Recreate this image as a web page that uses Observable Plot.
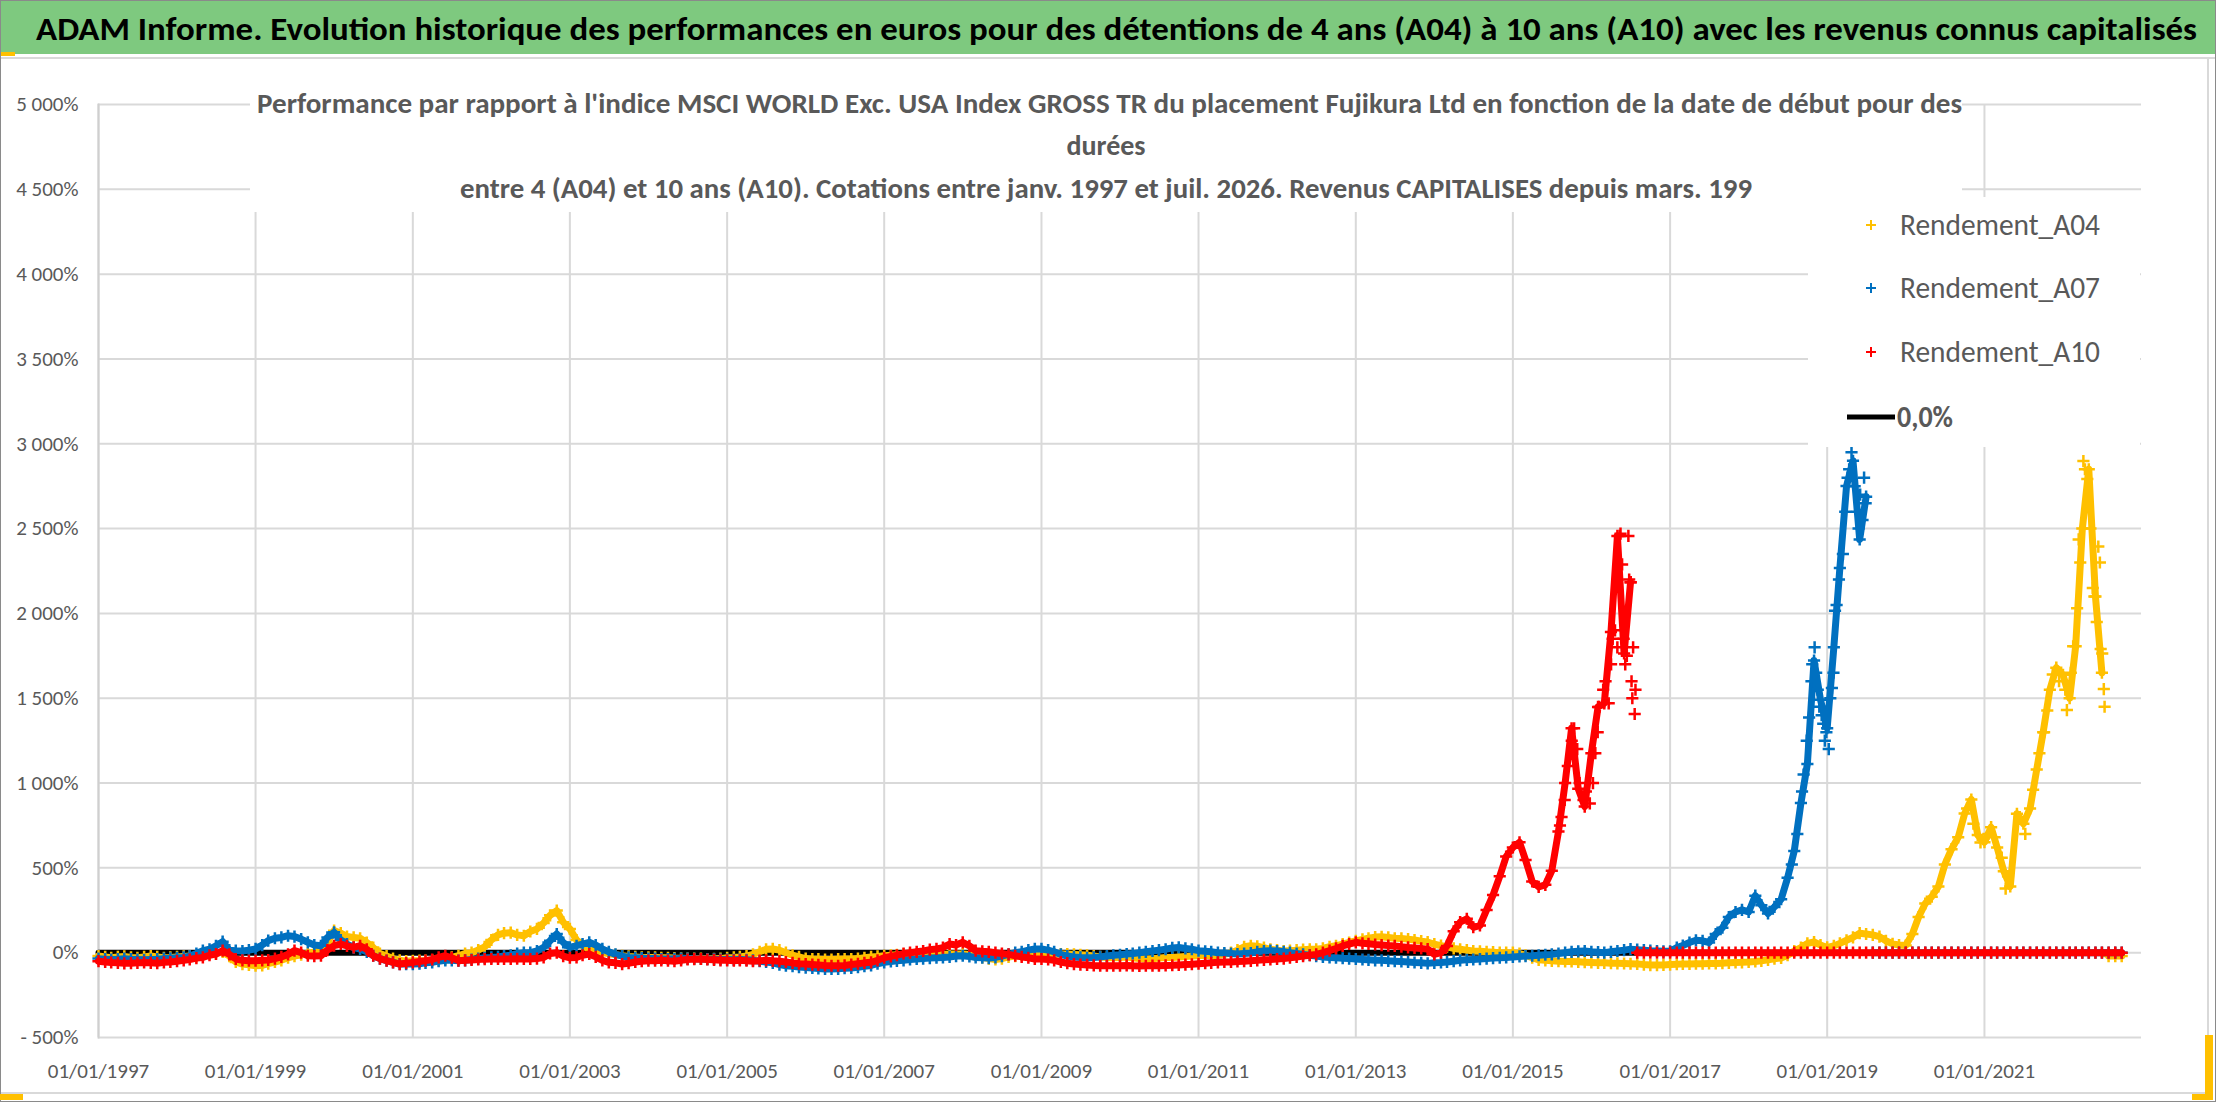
<!DOCTYPE html>
<html><head><meta charset="utf-8">
<script src="https://cdn.jsdelivr.net/npm/d3@7"></script>
<script src="https://cdn.jsdelivr.net/npm/@observablehq/plot@0.6"></script>
<style>
body{margin:0;background:#fff;}
#wrap{position:relative;width:2216px;height:1102px;overflow:hidden;background:#fff;}
#wrap svg{position:absolute;left:0;}
</style></head><body>
<div id="wrap"></div>
<script>
// ---------- DATA ----------
const FONT = "'Liberation Sans Narrow','Carlito','Open Sans',sans-serif";
const seriesNames = ["Rendement_A04", "Rendement_A07", "Rendement_A10"];
const seriesColors = ["#FFC000", "#0070C0", "#FF0000"];
const zeroLabel = "0,0%";
const yTickValues = [-500, 0, 500, 1000, 1500, 2000, 2500, 3000, 3500, 4000, 4500, 5000];
const xTickYears = [1997, 1999, 2001, 2003, 2005, 2007, 2009, 2011, 2013, 2015, 2017, 2019, 2021];
const firstMonth = [1997, 0]; // monthly values start Jan 1997
const zeroLineDates = ["1997-01-01", "2022-10-01"];
const zeroLineValues = [0, 0];

// Rendement_A04 (monthly, %), Jan 1997 - Jul 2022
const a04Values = [
 -20,-25,-30,-25,-22,-28,-30,-25,-20,-25,-30,-28,
 -25,-22,-20,-22,-15,-8,-5,5,-20,-55,-67,-72,
 -77,-75,-65,-55,-45,-30,-20,-12,-5,5,15,60,
 130,115,95,90,85,60,30,-5,-20,-35,-45,-50,
 -48,-47,-47,-45,-45,-40,-28,-18,-5,0,15,35,
 75,105,115,118,105,100,125,140,175,220,248,180,
 140,75,40,22,8,0,-5,-12,-18,-22,-25,-28,
 -28,-28,-30,-30,-32,-33,-35,-35,-35,-37,-36,-35,
 -30,-28,-25,-20,-10,5,20,22,15,0,-15,-25,
 -35,-37,-38,-40,-40,-38,-37,-37,-35,-30,-25,-22,
 -18,-15,-12,-10,-8,-8,-8,-10,-12,-10,-8,-8,
 -8,-10,-15,-28,-35,-40,-35,-25,-20,-15,-12,-10,
 -10,-12,-10,-8,-8,-10,-12,-15,-20,-25,-28,-30,
 -28,-25,-30,-35,-38,-36,-32,-28,-28,-25,-22,-20,
 -18,-15,-18,-15,-10,0,15,35,41,38,30,20,
 15,10,12,15,18,20,20,25,35,41,50,60,
 70,78,85,92,94,90,85,84,80,75,68,63,
 50,42,35,25,20,15,10,8,5,3,0,0,
 0,-5,-15,-30,-42,-45,-48,-50,-52,-52,-54,-56,
 -58,-60,-60,-62,-63,-64,-65,-66,-70,-73,-73,-72,
 -70,-68,-66,-66,-65,-65,-64,-64,-62,-60,-58,-57,
 -55,-52,-48,-42,-36,-31,-15,10,30,55,63,45,
 31,40,55,73,90,115,110,105,95,70,52,45,
 42,110,210,290,330,390,520,610,680,820,903,693,
 651,740,620,480,390,819,760,850,1080,1300,1550,1680,
 1638,1500,1806,2500,2850,2100,1650
];
const a04AfterValues = [-20,-20,-20]; // Aug - Oct 2022
const a04ExtraYears = [2020.78,2020.86,2020.95,2021.05,2021.13,2021.22,2021.27,2021.3,2021.45,2021.52,2021.62,2021.7,2021.76,2021.8,2021.87,2021.95,2022.03,2022.05,2022.1,2022.13,2022.18,2022.2,2022.22,2022.26,2022.28,2022.31,2022.35,2022.38,2022.4,2022.43,2022.45,2022.47,2022.48,2022.5,2022.52,2022.53];
const a04ExtraValues = [850,760,650,700,680,560,378,450,800,700,960,1176,1300,1428,1640,1600,1550,1430,1650,1806,2030,2436,2300,2898,2850,2793,2500,2150,2100,1950,2394,2300,1790,1764,1554,1450];

// Rendement_A07 (monthly, %), Jan 1997 - Jul 2019
const a07Values = [
 -35,-38,-40,-38,-35,-38,-40,-42,-40,-38,-35,-33,
 -30,-28,-20,-5,12,20,40,65,15,12,10,15,
 22,45,71,85,90,100,95,80,61,45,41,90,
 120,75,51,30,22,5,-18,-35,-47,-57,-67,-67,
 -67,-65,-60,-57,-50,-45,-45,-47,-45,-40,-35,-30,
 -28,-25,-20,-15,-5,0,0,10,31,70,110,60,
 31,41,51,61,45,22,5,-10,-20,-28,-30,-32,
 -35,-35,-37,-37,-36,-35,-35,-36,-37,-38,-38,-40,
 -40,-42,-40,-42,-45,-50,-55,-60,-70,-77,-80,-85,
 -88,-90,-93,-96,-96,-95,-92,-90,-86,-80,-75,-65,
 -57,-52,-48,-45,-40,-37,-35,-32,-30,-28,-25,-20,
 -18,-22,-28,-30,-32,-28,-20,-10,0,5,15,22,
 22,15,5,-10,-20,-25,-28,-30,-28,-25,-20,-15,
 -12,-8,-5,0,5,10,15,20,28,31,25,20,
 12,8,5,0,-2,-5,-8,-5,-2,5,10,12,
 10,5,0,-5,-10,-15,-20,-25,-28,-30,-33,-35,
 -37,-40,-42,-45,-45,-48,-50,-52,-55,-58,-60,-63,
 -60,-58,-55,-50,-45,-42,-40,-38,-35,-32,-30,-28,
 -25,-22,-20,-18,-15,-12,-10,-5,0,5,8,10,
 5,3,0,5,10,15,21,18,15,12,10,8,
 8,30,42,60,73,70,60,110,147,210,240,252,
 240,336,280,231,270,315,441,600,882,1113,1722,1491,
 1323,1800,2268,2751,2900,2436,2688
];
const a07AfterValues = [ // Aug 2019 - Oct 2022
 0,0,0,0,0,
 0,0,0,0,0,0,0,0,0,0,0,0,
 0,0,0,0,0,0,0,0,0,0,0,0,
 0,0,0,0,0,0,0,0,0,0
];
const a07ExtraYears = [2018.55,2018.62,2018.68,2018.7,2018.74,2018.77,2018.8,2018.81,2018.84,2018.86,2018.88,2018.9,2018.93,2018.95,2018.97,2018.99,2019.02,2019.04,2019.06,2019.08,2019.1,2019.12,2019.15,2019.2,2019.23,2019.26,2019.28,2019.31,2019.35,2019.38,2019.4,2019.42,2019.45,2019.47,2019.49];
const a07ExtraValues = [520,700,950,1050,1250,1386,1600,1700,1800,1650,1550,1450,1400,1350,1250,1300,1200,1500,1560,1650,2016,2050,2200,2350,2600,2800,2850,2950,2750,2600,2500,2700,2550,2800,2650];

// Rendement_A10 (monthly, %), Jan 1997 - Jul 2016
const a10Values = [
 -50,-55,-58,-60,-63,-62,-60,-58,-60,-62,-57,-55,
 -50,-45,-40,-32,-28,-15,-8,12,-10,-37,-45,-47,
 -47,-45,-43,-35,-25,-10,12,0,-18,-20,-18,15,
 41,51,40,31,41,20,-18,-35,-47,-57,-67,-62,
 -57,-52,-47,-40,-28,-18,-30,-47,-45,-43,-40,-38,
 -37,-37,-37,-37,-36,-37,-37,-35,-28,-5,0,-20,
 -30,-28,-15,-8,-25,-45,-57,-60,-67,-62,-55,-50,
 -47,-47,-45,-47,-50,-45,-40,-38,-37,-40,-42,-45,
 -45,-47,-45,-47,-50,-47,-45,-48,-50,-55,-60,-65,
 -67,-70,-72,-75,-77,-77,-75,-70,-65,-60,-57,-45,
 -30,-22,-15,-5,0,5,10,18,22,30,51,45,
 61,40,12,8,5,0,-5,-10,-18,-25,-30,-37,
 -37,-40,-45,-55,-62,-67,-70,-72,-75,-77,-77,-77,
 -77,-75,-77,-78,-77,-76,-77,-75,-74,-72,-70,-68,
 -65,-62,-60,-57,-55,-55,-52,-50,-48,-45,-42,-40,
 -37,-35,-30,-25,-20,-15,-10,0,12,25,40,51,
 61,55,52,48,45,42,40,35,31,28,25,21,
 -10,0,40,126,180,200,150,160,252,340,450,567,
 620,651,546,420,388,400,483,714,1000,1323,966,861,
 1176,1449,1470,1890,2457,1764,2184
];
const a10AfterValues = [ // Aug 2016 - Oct 2022
 0,0,0,0,0,
 0,0,0,0,0,0,0,0,0,0,0,0,
 0,0,0,0,0,0,0,0,0,0,0,0,
 0,0,0,0,0,0,0,0,0,0,0,0,
 0,0,0,0,0,0,0,0,0,0,0,0,
 0,0,0,0,0,0,0,0,0,0,0,0,
 0,0,0,0,0,0,0,0,0,0
];
const a10ExtraYears = [2015.6,2015.62,2015.66,2015.7,2015.75,2015.78,2015.82,2015.85,2015.9,2015.93,2015.98,2016.02,2016.05,2016.08,2016.1,2016.15,2016.18,2016.22,2016.25,2016.27,2016.3,2016.33,2016.36,2016.37,2016.39,2016.41,2016.43,2016.45,2016.47,2016.48,2016.5,2016.51,2016.52,2016.53,2016.55,2016.56];
const a10ExtraValues = [750,800,900,1100,1250,1323,1200,1000,900,950,880,1000,1176,1300,1449,1550,1600,1470,1700,1850,1900,1800,2457,2470,2289,1850,1700,1750,2457,2200,2184,1600,1500,1800,1407,1550];

// ---------- BUILD ----------
function decToDate(t){const y=Math.floor(t),f=t-y,a=Date.UTC(y,0,1),b=Date.UTC(y+1,0,1);return new Date(a+(b-a)*f);}
function monthly(vals,offset){return vals.map((v,i)=>({date:new Date(Date.UTC(firstMonth[0],firstMonth[1]+offset+i,1)),value:v}));}
function extra(years,vals){return years.map((t,i)=>({date:decToDate(t),value:vals[i]}));}
const raw = [[a04Values,a04AfterValues,a04ExtraYears,a04ExtraValues],[a07Values,a07AfterValues,a07ExtraYears,a07ExtraValues],[a10Values,a10AfterValues,a10ExtraYears,a10ExtraValues]];
const series = raw.map((r,i)=>({
  name:seriesNames[i], color:seriesColors[i],
  main:monthly(r[0],0), after:monthly(r[1],r[0].length), extra:extra(r[2],r[3])
}));
const zeroData = zeroLineDates.map((d,i)=>({date:new Date(d+"T00:00:00Z"),value:zeroLineValues[i]}));
const xTicks = xTickYears.map(y=>new Date(Date.UTC(y,0,1)));
const fmtY = v => (v<0?"- ":"") + d3.format(",")(Math.abs(v)).replace(/,/g," ") + "%";
const fmtX = d3.utcFormat("%d/%m/%Y");

const marks = [
  Plot.gridY(yTickValues,{stroke:"#d9d9d9",strokeOpacity:1,strokeWidth:2}),
  Plot.gridX(xTicks,{stroke:"#d9d9d9",strokeOpacity:1,strokeWidth:2}),
  Plot.frame({anchor:"left",stroke:"#cfcfcf",strokeWidth:2}),
  Plot.axisY(yTickValues,{tickSize:0,tickPadding:20,tickFormat:fmtY,fill:"#595959",fontSize:21}),
  Plot.axisX(xTicks,{tickSize:0,tickPadding:26,tickFormat:fmtX,fill:"#595959",fontSize:21}),
  Plot.line(zeroData,{x:"date",y:"value",stroke:"#000",strokeWidth:6})
];
for (const s of series){
  marks.push(Plot.line(s.main,{x:"date",y:"value",stroke:s.color,strokeWidth:7}));
  marks.push(Plot.line(s.after,{x:"date",y:"value",stroke:s.color,strokeWidth:7}));
  marks.push(Plot.dot(s.main.concat(s.after,s.extra),{x:"date",y:"value",symbol:"plus",stroke:s.color,r:4,strokeWidth:2.5}));
}

const chart = Plot.plot({
  width:2216, height:1040,
  marginTop:44, marginBottom:63, marginLeft:98, marginRight:75,
  x:{type:"utc",domain:[new Date(Date.UTC(1997,0,1)),new Date(Date.UTC(2023,0,1))],label:null},
  y:{domain:[-500,5000],label:null},
  style:{fontFamily:FONT,fontSize:"21px",color:"#595959",background:"transparent",overflow:"visible"},
  marks
});
chart.style.top="60px";
const wrap=document.getElementById("wrap");
wrap.appendChild(chart);

// ---------- OVERLAY: banner, title box, legend, frame ----------
const NS="http://www.w3.org/2000/svg";
const ov=document.createElementNS(NS,"svg");
ov.setAttribute("width",2216);ov.setAttribute("height",1102);
ov.style.top="0px";ov.style.fontFamily=FONT;
function el(tag,attrs,text){const e=document.createElementNS(NS,tag);for(const k in attrs)e.setAttribute(k,attrs[k]);if(text!=null)e.textContent=text;ov.appendChild(e);return e;}
// banner
el("rect",{x:0,y:0,width:2216,height:54,fill:"#7ec97f"});
el("text",{x:36,y:40,"font-size":32,"font-weight":"bold",fill:"#000",textLength:2161,lengthAdjust:"spacingAndGlyphs"},
 "ADAM Informe. Evolution historique des performances en euros pour des détentions de 4 ans (A04) à 10 ans (A10) avec les revenus connus capitalisés");
el("rect",{x:0,y:57,width:2216,height:2,fill:"#d9d9d9"});
el("rect",{x:0,y:52,width:15,height:4,fill:"#ffc000"});
// frame
el("rect",{x:2207,y:57,width:2,height:1036,fill:"#d9d9d9"});
el("rect",{x:0,y:1092,width:2209,height:2,fill:"#d9d9d9"});
el("rect",{x:0.5,y:0.5,width:2215,height:1101,fill:"none",stroke:"#8a8a8a","stroke-width":1});
el("rect",{x:0,y:1094,width:23,height:6,fill:"#ffc000"});
el("rect",{x:2205,y:1035,width:8,height:64,fill:"#ffc000"});
el("rect",{x:2192,y:1094,width:21,height:6,fill:"#ffc000"});
// chart title box
el("rect",{x:250,y:86,width:1712,height:126,fill:"#fff"});
const tAttr={"font-size":28,"font-weight":"bold",fill:"#595959"};
el("text",Object.assign({x:257,y:113,textLength:1705,lengthAdjust:"spacingAndGlyphs"},tAttr),
 "Performance par rapport à l'indice MSCI WORLD Exc. USA Index GROSS TR  du placement Fujikura Ltd en fonction de la date de début pour des");
el("text",Object.assign({x:1106,y:155,"text-anchor":"middle"},tAttr),"durées");
el("text",Object.assign({x:460,y:198,textLength:1292,lengthAdjust:"spacingAndGlyphs"},tAttr),
 "entre 4 (A04) et 10 ans (A10). Cotations entre janv. 1997 et juil. 2026. Revenus CAPITALISES depuis mars. 199");
// legend
el("rect",{x:1808,y:197,width:332,height:250,fill:"#fff"});
const rowsY=[225,288,352];
series.forEach((s,i)=>{
  const cy=rowsY[i];
  el("line",{x1:1866,x2:1876,y1:cy,y2:cy,stroke:s.color,"stroke-width":2});
  el("line",{x1:1871,x2:1871,y1:cy-5,y2:cy+5,stroke:s.color,"stroke-width":2});
  el("text",{x:1900,y:cy+10,"font-size":30,fill:"#595959",textLength:200,lengthAdjust:"spacingAndGlyphs"},s.name);
});
el("line",{x1:1847,x2:1895,y1:417,y2:417,stroke:"#000","stroke-width":5});
el("text",{x:1897,y:427,"font-size":30,"font-weight":"bold",fill:"#595959",textLength:56,lengthAdjust:"spacingAndGlyphs"},zeroLabel);
wrap.appendChild(ov);
</script>
</body></html>
